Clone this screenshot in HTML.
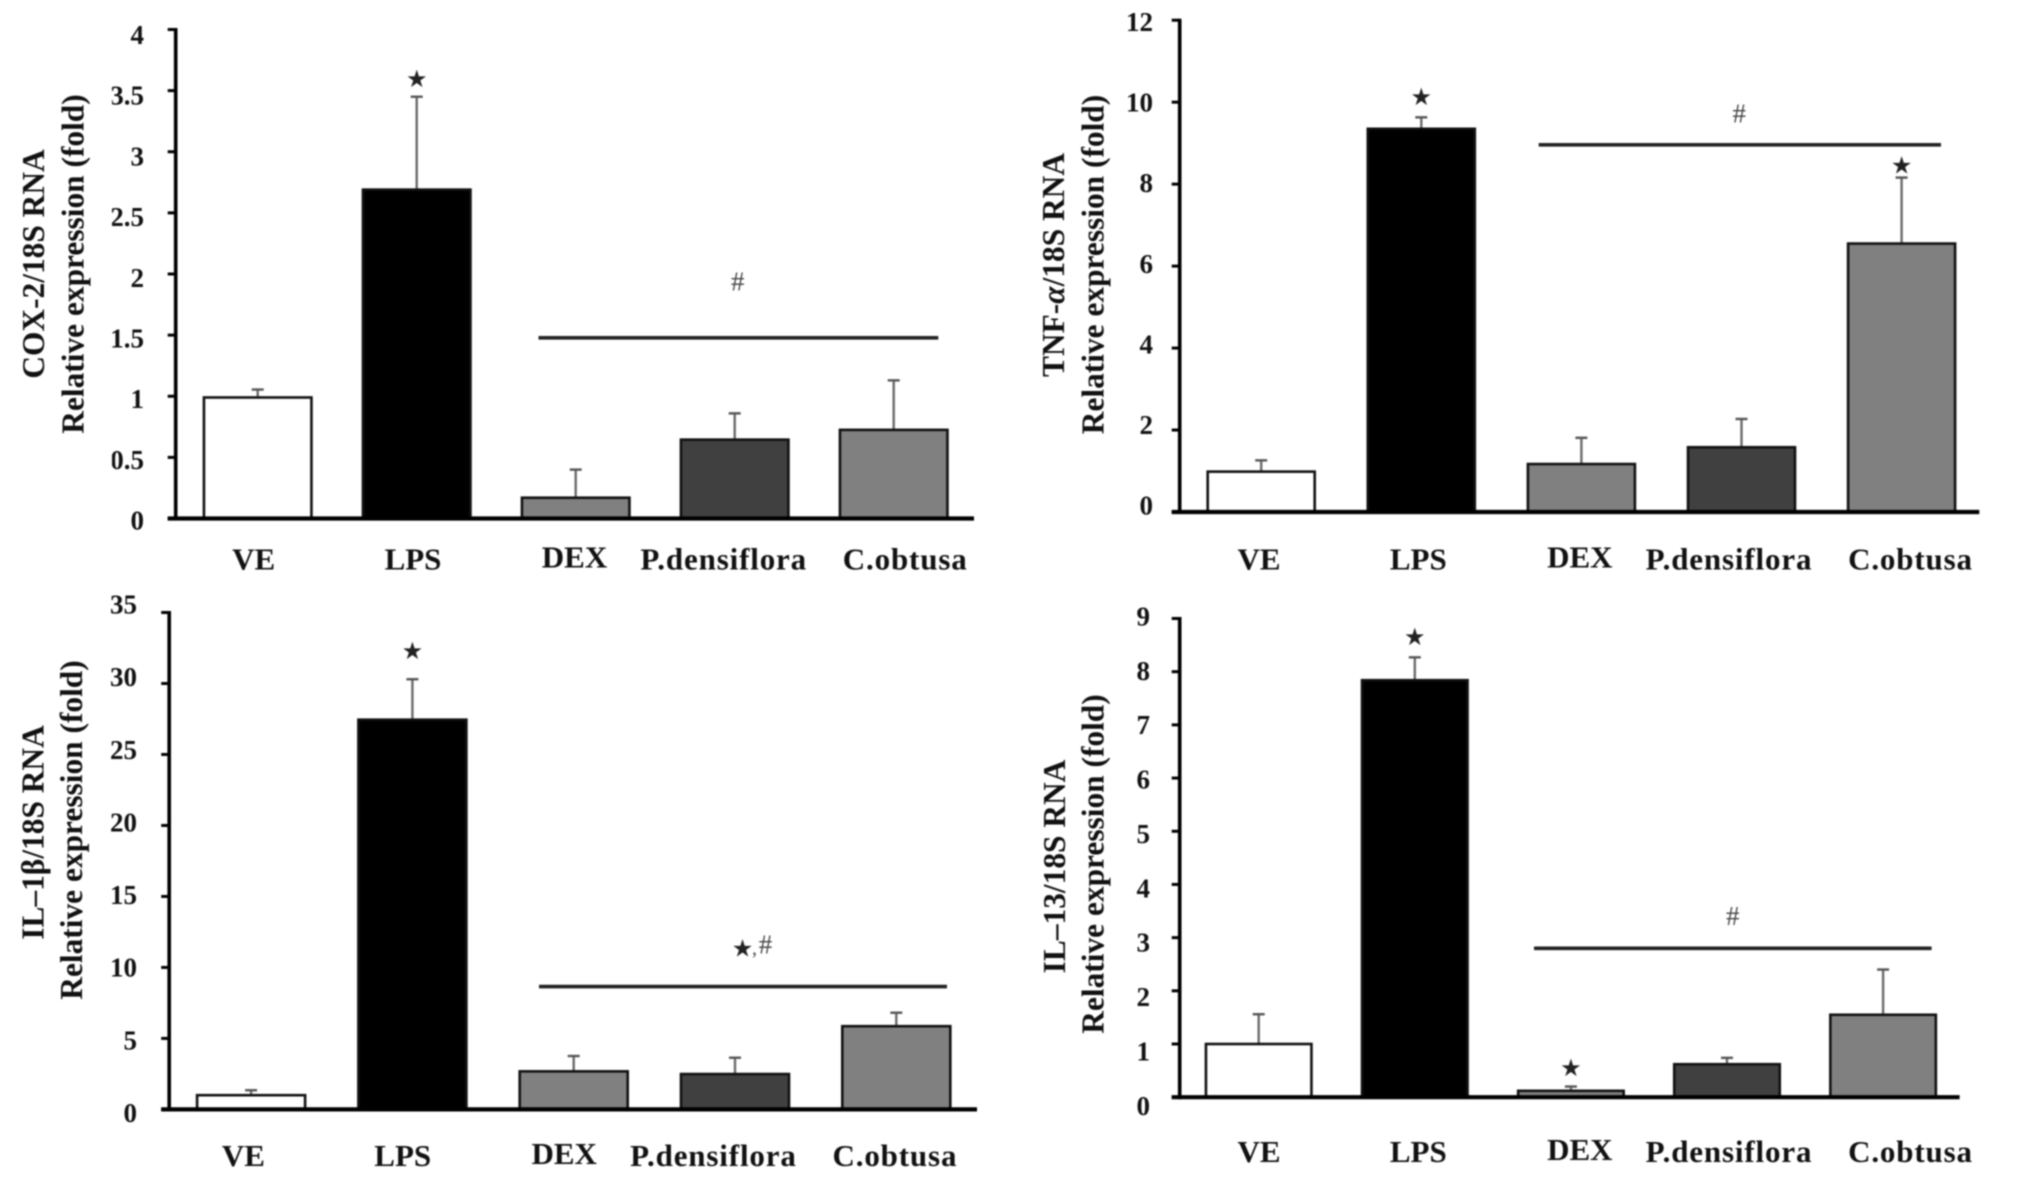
<!DOCTYPE html>
<html lang="en">
<head>
<meta charset="utf-8">
<title>Relative expression bar charts</title>
<style>
html,body{margin:0;padding:0;background:#fff;width:2031px;height:1177px;overflow:hidden}
svg{display:block;filter:blur(.9px)}
text{font-family:"Liberation Serif","DejaVu Serif",serif;fill:#111}
.tick{font-weight:bold;font-size:27px;text-anchor:end}
.cat{font-weight:bold;font-size:31px;text-anchor:middle}
.title{font-weight:bold;font-size:31.4px;text-anchor:middle}
.star{font-family:"DejaVu Sans",sans-serif;font-size:24px;text-anchor:middle;fill:#222}
.hash{font-size:27px;text-anchor:middle;fill:#444}
</style>
</head>
<body>
<svg id="figure" xmlns="http://www.w3.org/2000/svg" width="2031" height="1177" viewBox="0 0 2031 1177">
<rect width="2031" height="1177" fill="#ffffff"/>
</svg>
<script>
const categories = ['VE','LPS','DEX','P.densiflora','C.obtusa'];

const coxTicks = ['0','0.5','1','1.5','2','2.5','3','3.5','4'];
const coxTickValues = [0,0.5,1,1.5,2,2.5,3,3.5,4];
const coxMeans = [0.99,2.69,0.17,0.645,0.725];
const coxErrorTops = [1.055,3.45,0.40,0.86,1.13];
const coxSignificance = 1.478;

const tnfTicks = ['0','2','4','6','8','10','12'];
const tnfTickValues = [0,2,4,6,8,10,12];
const tnfMeans = [0.985,9.35,1.17,1.58,6.55];
const tnfErrorTops = [1.26,9.63,1.81,2.27,8.16];
const tnfSignificance = 8.96;

const ilbTicks = ['0','5','10','15','20','25','30','35'];
const ilbTickValues = [0,5,10,15,20,25,30,35];
const ilbMeans = [1.0,27.45,2.68,2.49,5.86];
const ilbErrorTops = [1.35,30.3,3.76,3.64,6.81];
const ilbSignificance = 8.65;

const il13Ticks = ['0','1','2','3','4','5','6','7','8','9'];
const il13TickValues = [0,1,2,3,4,5,6,7,8,9];
const il13Means = [1.0,7.84,0.12,0.62,1.55];
const il13ErrorTops = [1.56,8.27,0.2,0.74,2.4];
const il13Significance = 2.8;

const barFills = ['#ffffff','#000000','#808080','#404040','#808080'];
const NS = 'http://www.w3.org/2000/svg';
const root = document.getElementById('figure');

function make(tag, attrs, parent, txt){
  const el = document.createElementNS(NS, tag);
  for (const k in attrs) el.setAttribute(k, attrs[k]);
  if (txt !== undefined) el.textContent = txt;
  parent.appendChild(el);
  return el;
}

function drawPanel(p){
  const g = make('g', {}, root);
  
  

  const maxV = p.tickValues[p.tickValues.length - 1];
  const y = v => p.base - v * (p.base - p.top) / maxV;
  const x = i => p.x0 + i * p.step;
  const labelY = v => p.labelBase + (p.labelTop - p.labelBase) * v / maxV;

  // error bars sit behind the bars
  p.errorTops.forEach((v, i) => {
    const stem = make('line', {x1:x(i), x2:x(i), y1:y(p.means[i]), y2:y(v), stroke:'#6a6a6a', 'stroke-width':2.4}, g);
    
    
    const cap = make('line', {x1:x(i)-6, x2:x(i)+6, y1:y(v), y2:y(v), stroke:'#555', 'stroke-width':2.4}, g);
    
    
  });

  // bars
  p.means.forEach((v, i) => {
    const r = make('rect', {x:x(i)-p.bw/2, y:y(v), width:p.bw, height:p.base-y(v), fill:barFills[i], stroke:'#111', 'stroke-width':2.6}, g);
    
    
  });

  // axes
  const yAxis = make('line', {x1:p.axisX, x2:p.axisX, y1:p.top-1.5, y2:p.base+2, stroke:'#000', 'stroke-width':3.6}, g);
  
  
  const xAxis = make('line', {x1:p.axisX-8, x2:p.axisEnd, y1:p.base, y2:p.base, stroke:'#000', 'stroke-width':4.2}, g);
  
  

  // y ticks and labels
  const tickGroup = make('g', p.clip ? {'clip-path':'url(#'+p.clip+')'} : {}, g);
  
  
  p.tickValues.forEach((v, i) => {
    const t = make('line', {x1:p.axisX-8, x2:p.axisX, y1:y(v), y2:y(v), stroke:'#000', 'stroke-width':3}, g);
    
    
    const l = make('text', {class:'tick', x:p.tickRight, y:labelY(v)+9}, tickGroup, p.ticks[i]);
    
    
  });

  // category labels
  const labelShift = [0,159.3,320.8,470,651.5];
  const labelRise = [0,0,2.2,0,0];
  categories.forEach((c, i) => {
    const l = make('text', {class:'cat', x:p.catX+labelShift[i], y:p.catY+10-labelRise[i]}, g, c);
    if (/[a-z]/.test(c)) l.style.letterSpacing = '.85px';
    
    
  });

  // axis titles
  const t1 = make('text', {class:'title', transform:'translate('+p.t1x+','+p.t1y+') rotate(-90)', y:10}, g);
  
  
  p.title(t1);
  const t2 = make('text', {class:'title', transform:'translate('+p.t2x+','+p.t2y+') rotate(-90)', y:10}, g, 'Relative expression (fold)');
  
  

  // significance bracket
  const sig = make('line', {x1:p.sigX1, x2:p.sigX2, y1:y(p.significance), y2:y(p.significance), stroke:'#222', 'stroke-width':3.6}, g);
  
  

  const h = make('text', {class:'hash', x:p.hashX, y:p.hashY+8}, g, '#');
  
  
  if (p.hashStar) {
    const hs = make('text', {class:'star', x:p.hashX-23, y:p.hashY+11}, g, '★');
    
    
    const comma = make('text', {class:'hash', x:p.hashX-11, y:p.hashY+9, style:'font-size:20px'}, g, ',');
    
    
  }

  // stars above error bars
  p.stars.forEach(s => {
    const st = make('text', {class:'star', x:x(s.i), y:y(p.errorTops[s.i]) - s.gap + 8.5}, g, '★');
    
    
  });
}

const defs = make('defs', {}, root);
const cp = make('clipPath', {id:'coxClip'}, defs);
make('rect', {x:112, y:0, width:100, height:600}, cp);

function plainTitle(s){ return el => { el.textContent = s; }; }

drawPanel({id:'cox2', ticks:coxTicks, tickValues:coxTickValues, means:coxMeans, errorTops:coxErrorTops, significance:coxSignificance,
  axisX:175.7, axisEnd:974, base:518.5, top:29.5, x0:257.7, step:159, bw:107.5, tickRight:144, labelBase:520.5, labelTop:35, clip:'coxClip',
  catX:253.7, catY:559.6, t1x:34, t1y:264, t2x:73.7, t2y:264, sigX1:538.5, sigX2:938.3, hashX:737.8, hashY:282.4,
  stars:[{i:1, gap:18}], title:plainTitle('COX-2/18S RNA')});

drawPanel({id:'tnf-alpha', ticks:tnfTicks, tickValues:tnfTickValues, means:tnfMeans, errorTops:tnfErrorTops, significance:tnfSignificance,
  axisX:1179.7, axisEnd:1979.3, base:512, top:20.2, x0:1261.2, step:160.1, bw:107, tickRight:1153, labelBase:505.5, labelTop:22,
  catX:1259, catY:559.6, t1x:1054, t1y:265, t2x:1093.5, t2y:264.5, sigX1:1538.7, sigX2:1941, hashX:1739.2, hashY:114.5,
  stars:[{i:1, gap:20.7},{i:4, gap:12.5}],
  title: el => {
    el.appendChild(document.createTextNode('TNF-'));
    const a = make('tspan', {'font-style':'italic'}, el, 'α');
    
    
    el.appendChild(document.createTextNode('/18S RNA'));
  }});

drawPanel({id:'il-1beta', ticks:ilbTicks, tickValues:ilbTickValues, means:ilbMeans, errorTops:ilbErrorTops, significance:ilbSignificance,
  axisX:169.2, axisEnd:977, base:1109.4, top:612.5, x0:251.1, step:161.3, bw:108, tickRight:137, labelBase:1113, labelTop:604.5,
  catX:243.4, catY:1156, t1x:33.5, t1y:832.5, t2x:72.2, t2y:830, sigX1:539, sigX2:947, hashX:765.5, hashY:945.6, hashStar:true,
  stars:[{i:1, gap:28.5}], title:plainTitle('IL–1β/18S RNA')});

drawPanel({id:'il-13', ticks:il13Ticks, tickValues:il13TickValues, means:il13Means, errorTops:il13ErrorTops, significance:il13Significance,
  axisX:1179.7, axisEnd:1959.6, base:1097.2, top:618.5, x0:1258.7, step:156.1, bw:105.5, tickRight:1150, labelBase:1105.8, labelTop:616.5,
  catX:1259, catY:1152, t1x:1055, t1y:866.5, t2x:1093.7, t2y:864, sigX1:1534, sigX2:1931.6, hashX:1732.7, hashY:917,
  stars:[{i:1, gap:20.7},{i:2, gap:19}], title:plainTitle('IL–13/18S RNA')});
</script>
</body>
</html>
